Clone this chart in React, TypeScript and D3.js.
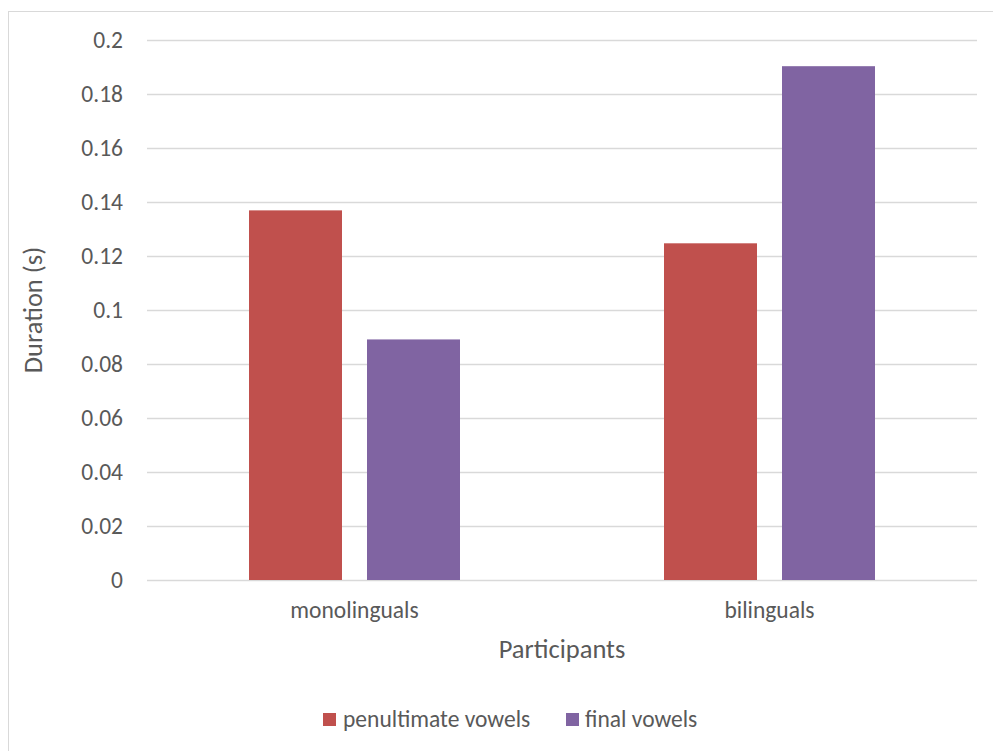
import React from "react";
import * as d3 from "d3";

const categories = ["monolinguals", "bilinguals"];
const seriesNames = ["penultimate vowels", "final vowels"];
const penultimate = [0.1369, 0.1247];
const finalV = [0.0891, 0.1903];
const yTicks = [0, 0.02, 0.04, 0.06, 0.08, 0.1, 0.12, 0.14, 0.16, 0.18, 0.2];
const colors = ["#C0504D", "#8064A2"];

export default function App() {
  const W = 993, H = 751;
  const left = 147, right = 977, top = 40, bottom = 580;
  const font = "Carlito, Calibri, 'Open Sans', sans-serif";
  const y = d3.scaleLinear().domain([0, 0.2]).range([bottom, top]);
  const x0 = d3.scaleBand().domain(categories).range([left, right]).paddingInner(0).paddingOuter(0);
  const barW = 93, gap = 25;
  const series = [penultimate, finalV];
  const fmt = (v: number) => String(+v.toFixed(2));
  return (
    <svg width={W} height={H} style={{ position: "absolute", left: 0, top: 0 }}>
      <rect x={8.5} y={11.5} width={W} height={H} fill="#fff" stroke="#D9D9D9" />
      {yTicks.map((t) => (
        <g key={t}>
          <line x1={left} x2={right} y1={Math.round(y(t)) + 0.5} y2={Math.round(y(t)) + 0.5} stroke="#D9D9D9" strokeWidth={1.3} />
          <text x={123} y={y(t)} dy="0.32em" textAnchor="end" fontFamily={font} fontSize={23.5} fill="#595959">
            {fmt(t)}
          </text>
        </g>
      ))}
      {categories.map((c, i) => {
        const cx = (x0(c) as number) + x0.bandwidth() / 2;
        return (
          <g key={c}>
            {series.map((s, j) => {
              const bx = cx - gap / 2 - barW + j * (barW + gap);
              return <rect key={j} x={bx} y={y(s[i])} width={barW} height={bottom - y(s[i])} fill={colors[j]} />;
            })}
            <text x={cx} y={618} textAnchor="middle" fontFamily={font} fontSize={23.5} fill="#595959">{c}</text>
          </g>
        );
      })}
      <text x={562} y={658} textAnchor="middle" fontFamily={font} fontSize={26.5} fill="#595959">Participants</text>
      <text transform={`translate(42,${(top + bottom) / 2}) rotate(-90)`} textAnchor="middle" fontFamily={font} fontSize={26.5} fill="#595959">Duration (s)</text>
      <g>
        <rect x={323} y={713} width={13} height={13} fill={colors[0]} />
        <text x={343} y={727} fontFamily={font} fontSize={23.5} fill="#595959">{seriesNames[0]}</text>
        <rect x={566} y={713} width={13} height={13} fill={colors[1]} />
        <text x={585} y={727} fontFamily={font} fontSize={23.5} fill="#595959">{seriesNames[1]}</text>
      </g>
    </svg>
  );
}
